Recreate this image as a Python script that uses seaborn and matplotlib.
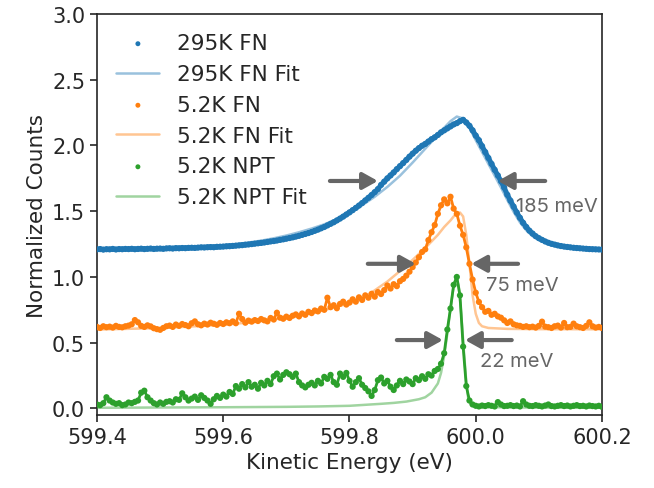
import numpy as np
import pandas as pd
import matplotlib
matplotlib.use("Agg")
import matplotlib.pyplot as plt
import seaborn as sns

# ---------------- data ----------------
energy = np.round(np.linspace(599.4, 600.2, 161), 3)  # sample grid (eV)

fn295 = [
    1.210, 1.212, 1.208, 1.211, 1.210, 1.213, 1.209, 1.212, 1.211, 1.213,
    1.212, 1.214, 1.211, 1.213, 1.215, 1.212, 1.214, 1.216, 1.213, 1.215,
    1.216, 1.214, 1.217, 1.218, 1.216, 1.219, 1.218, 1.220, 1.219, 1.221,
    1.222, 1.221, 1.223, 1.225, 1.224, 1.226, 1.227, 1.226, 1.229, 1.230,
    1.231, 1.233, 1.234, 1.236, 1.238, 1.240, 1.242, 1.245, 1.247, 1.250,
    1.253, 1.256, 1.259, 1.262, 1.266, 1.270, 1.273, 1.277, 1.282, 1.286,
    1.291, 1.296, 1.301, 1.307, 1.313, 1.320, 1.327, 1.334, 1.342, 1.351,
    1.360, 1.370, 1.380, 1.392, 1.404, 1.416, 1.430, 1.444, 1.459, 1.475,
    1.491, 1.508, 1.525, 1.543, 1.562, 1.582, 1.602, 1.623, 1.645, 1.668,
    1.700, 1.725, 1.750, 1.772, 1.795, 1.820, 1.843, 1.866, 1.890, 1.915,
    1.938, 1.960, 1.980, 1.998, 2.012, 2.030, 2.048, 2.062, 2.080, 2.100,
    2.115, 2.130, 2.145, 2.160, 2.170, 2.185, 2.195, 2.175, 2.150, 2.115,
    2.075, 2.040, 1.995, 1.950, 1.905, 1.860, 1.815, 1.772, 1.728, 1.680,
    1.625, 1.580, 1.535, 1.490, 1.450, 1.412, 1.380, 1.352, 1.330, 1.310,
    1.295, 1.282, 1.270, 1.260, 1.252, 1.246, 1.240, 1.235, 1.231, 1.228,
    1.225, 1.222, 1.220, 1.218, 1.216, 1.214, 1.212, 1.211, 1.210, 1.209,
    1.208,
]

fn52 = [
    0.620, 0.612, 0.625, 0.618, 0.622, 0.615, 0.628, 0.620, 0.617, 0.625,
    0.630, 0.640, 0.672, 0.655, 0.628, 0.620, 0.632, 0.624, 0.610, 0.603,
    0.598, 0.612, 0.625, 0.630, 0.620, 0.638, 0.628, 0.642, 0.634, 0.625,
    0.648, 0.662, 0.640, 0.632, 0.645, 0.638, 0.652, 0.644, 0.636, 0.650,
    0.642, 0.655, 0.648, 0.662, 0.648, 0.720, 0.680, 0.652, 0.668, 0.660,
    0.672, 0.665, 0.680, 0.670, 0.662, 0.688, 0.676, 0.728, 0.690, 0.682,
    0.698, 0.688, 0.705, 0.715, 0.700, 0.722, 0.712, 0.735, 0.725, 0.745,
    0.738, 0.760, 0.750, 0.842, 0.770, 0.785, 0.762, 0.795, 0.812, 0.790,
    0.805, 0.830, 0.812, 0.845, 0.825, 0.860, 0.842, 0.872, 0.850, 0.885,
    0.870, 0.900, 0.935, 0.912, 0.945, 0.930, 0.968, 0.985, 1.010, 1.040,
    1.075, 1.110, 1.150, 1.190, 1.210, 1.280, 1.340, 1.395, 1.480, 1.545,
    1.590, 1.560, 1.610, 1.520, 1.480, 1.390, 1.320, 1.225, 1.100, 0.980,
    0.880, 0.810, 0.770, 0.735, 0.742, 0.712, 0.720, 0.700, 0.690, 0.670,
    0.650, 0.662, 0.640, 0.632, 0.628, 0.620, 0.625, 0.618, 0.622, 0.615,
    0.628, 0.660, 0.622, 0.618, 0.612, 0.625, 0.630, 0.615, 0.650, 0.618,
    0.620, 0.645, 0.625, 0.618, 0.612, 0.628, 0.655, 0.625, 0.615, 0.620,
    0.612,
]

npt52 = [
    0.030, 0.025, 0.040, 0.085, 0.060, 0.045, 0.035, 0.040, 0.025, 0.030,
    0.045, 0.040, 0.050, 0.060, 0.120, 0.135, 0.085, 0.060, 0.040, 0.030,
    0.045, 0.035, 0.050, 0.055, 0.045, 0.070, 0.065, 0.115, 0.085, 0.060,
    0.075, 0.090, 0.065, 0.100, 0.080, 0.060, 0.035, 0.070, 0.095, 0.080,
    0.105, 0.090, 0.125, 0.110, 0.170, 0.150, 0.185, 0.160, 0.200, 0.165,
    0.180, 0.150, 0.195, 0.175, 0.210, 0.185, 0.245, 0.265, 0.220, 0.255,
    0.275, 0.260, 0.240, 0.265, 0.200, 0.175, 0.160, 0.180, 0.195, 0.175,
    0.210, 0.190, 0.240, 0.225, 0.255, 0.200, 0.180, 0.265, 0.240, 0.270,
    0.210, 0.165, 0.200, 0.230, 0.180, 0.155, 0.130, 0.095, 0.140, 0.215,
    0.235, 0.190, 0.210, 0.165, 0.140, 0.175, 0.210, 0.185, 0.220, 0.205,
    0.185, 0.230, 0.215, 0.245, 0.225, 0.260, 0.250, 0.285, 0.300, 0.340,
    0.420, 0.600, 0.760, 0.940, 1.000, 0.860, 0.470, 0.170, 0.060, 0.030,
    0.020, 0.015, 0.022, 0.018, 0.025, 0.020, 0.015, 0.048, 0.030, 0.018,
    0.020, 0.025, 0.018, 0.022, 0.015, 0.055, 0.030, 0.020, 0.018, 0.025,
    0.020, 0.015, 0.022, 0.030, 0.018, 0.015, 0.020, 0.025, 0.018, 0.022,
    0.015, 0.020, 0.025, 0.018, 0.020, 0.015, 0.022, 0.018, 0.015, 0.020,
    0.012,
]

fit295_x = [599.40, 599.45, 599.50, 599.55, 599.60, 599.62, 599.64, 599.66, 599.68,
            599.70, 599.72, 599.74, 599.76, 599.78, 599.80, 599.82, 599.84, 599.86,
            599.88, 599.90, 599.92, 599.94, 599.95, 599.96, 599.97, 599.98, 599.99,
            600.00, 600.01, 600.02, 600.03, 600.04, 600.05, 600.06, 600.07, 600.08,
            600.09, 600.10, 600.12, 600.14, 600.16, 600.18, 600.20]
fit295_y = [1.214, 1.218, 1.225, 1.232, 1.242, 1.250, 1.262, 1.276, 1.294,
            1.315, 1.340, 1.368, 1.400, 1.440, 1.490, 1.545, 1.610, 1.685,
            1.770, 1.870, 1.975, 2.080, 2.135, 2.185, 2.220, 2.205, 2.135,
            2.040, 1.950, 1.860, 1.770, 1.680, 1.585, 1.495, 1.415, 1.355,
            1.310, 1.280, 1.248, 1.230, 1.218, 1.212, 1.209]

fit52_x = [599.40, 599.50, 599.60, 599.65, 599.70, 599.75, 599.80, 599.83, 599.86,
           599.88, 599.90, 599.92, 599.94, 599.95, 599.96, 599.965, 599.97, 599.975,
           599.98, 599.985, 599.99, 599.995, 600.00, 600.005, 600.01, 600.02,
           600.05, 600.10, 600.20]
fit52_y = [0.600, 0.611, 0.636, 0.658, 0.690, 0.735, 0.800, 0.865, 0.965,
           1.045, 1.130, 1.220, 1.320, 1.380, 1.430, 1.460, 1.480, 1.490,
           1.460, 1.320, 1.100, 0.860, 0.720, 0.650, 0.625, 0.612,
           0.605, 0.603, 0.602]

fitnpt_x = [599.40, 599.50, 599.60, 599.70, 599.75, 599.80, 599.85, 599.87, 599.89,
            599.91, 599.92, 599.93, 599.94, 599.945, 599.95, 599.955, 599.96,
            599.965, 599.969, 599.973, 599.977, 599.981, 599.985, 599.988, 599.992,
            599.997, 600.01, 600.10, 600.20]
fitnpt_y = [0.005, 0.007, 0.009, 0.012, 0.015, 0.020, 0.035, 0.042, 0.052,
            0.070, 0.085, 0.120, 0.190, 0.270, 0.400, 0.570, 0.760,
            0.930, 1.000, 0.930, 0.720, 0.450, 0.200, 0.080, 0.030,
            0.015, 0.010, 0.006, 0.005]

labels = ["295K FN", "5.2K FN", "5.2K NPT"]
fwhm_labels = ["185 meV", "75 meV", "22 meV"]

# ---------------- plot ----------------
sns.set_style("ticks")
plt.rcParams["font.family"] = ["DejaVu Sans"]

fig, ax = plt.subplots(figsize=(6.54, 4.89), dpi=100)
fig.subplots_adjust(left=97 / 654, right=602 / 654, top=1 - 15 / 489, bottom=1 - 416 / 489)

pal = sns.color_palette("tab10")
series = [
    (fn295, fit295_x, fit295_y, pal[0], 3.6),
    (fn52, fit52_x, fit52_y, pal[1], 2.0),
    (npt52, fitnpt_x, fitnpt_y, pal[2], 2.0),
]
for (vals, fx, fy, col, lw), lab in zip(series, labels):
    df = pd.DataFrame({"E": energy, "I": vals})
    sns.lineplot(data=df, x="E", y="I", color=col, lw=lw, ax=ax, legend=False)
    sns.scatterplot(data=df, x="E", y="I", color=col, s=20, edgecolor="none",
                    label=lab, ax=ax, zorder=3)
    sns.lineplot(x=fx, y=fy, color=col, alpha=0.45, lw=1.8, label=lab + " Fit", ax=ax,
                 zorder=4)

ax.set_xlim(599.4, 600.2)
ax.set_ylim(-0.05, 3.0)
ax.set_xticks([599.4, 599.6, 599.8, 600.0, 600.2])
ax.set_yticks([0.0, 0.5, 1.0, 1.5, 2.0, 2.5, 3.0])
ax.set_xticklabels(["599.4", "599.6", "599.8", "600.0", "600.2"])
ax.tick_params(labelsize=15, length=5, width=1.2)
for s in ax.spines.values():
    s.set_linewidth(1.2)
ax.set_xlabel("Kinetic Energy (eV)", fontsize=15.5)
ax.set_ylabel("Normalized Counts", fontsize=15.5)

leg = ax.legend(loc="upper left", frameon=False, fontsize=15.5, markerscale=0.8)

# FWHM arrows
gray = "#666666"
arrows = [
    (1.73, 599.769, 599.845, 600.110, 600.035, 600.063, 1.54),
    (1.10, 599.829, 599.905, 600.067, 599.993, 600.017, 0.94),
    (0.52, 599.875, 599.948, 600.057, 599.983, 600.006, 0.36),
]
aprops = dict(arrowstyle="-|>,head_length=0.45,head_width=0.25", lw=3, color=gray,
              shrinkA=0, shrinkB=0, mutation_scale=20)
for (y, lt, lh, rt, rh, tx, ty), txt in zip(arrows, fwhm_labels):
    ax.annotate("", xy=(lh, y), xytext=(lt, y), arrowprops=aprops, zorder=6)
    ax.annotate("", xy=(rh, y), xytext=(rt, y), arrowprops=aprops, zorder=6)
    ax.text(tx, ty, txt, fontsize=14.5, color=gray, ha="left", va="center",
            family=["Inter", "DejaVu Sans"], zorder=6)

fig.savefig("out.png", dpi=100)
